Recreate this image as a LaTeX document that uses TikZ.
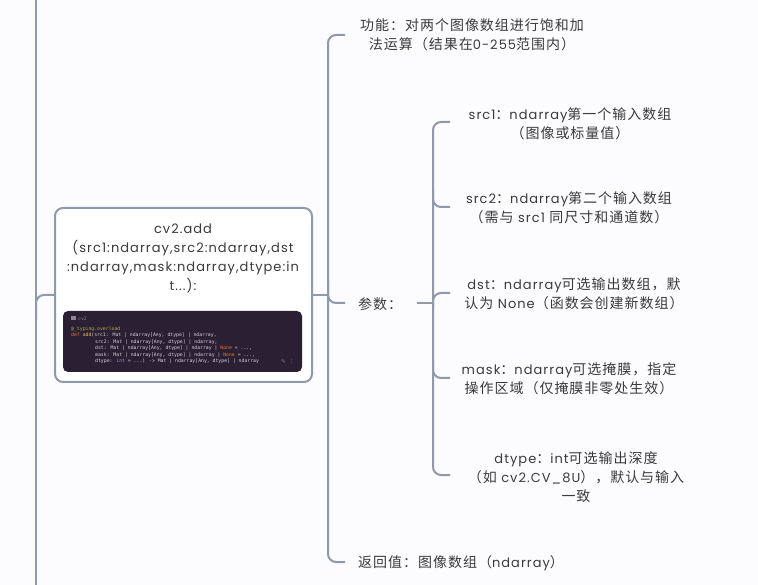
\documentclass[tikz,border=0pt]{standalone}
\usepackage{fontspec}
\setmainfont{Poppins}[LetterSpace=8]
\newfontfamily\zhfont{Noto Sans CJK SC}[LetterSpace=7]
\newfontfamily\codefont{DejaVu Sans Mono}
\newfontfamily\symfont{DejaVu Sans}
\newcommand\zh[1]{{\zhfont\fontsize{14}{19}\selectfont #1}}
\definecolor{linec}{HTML}{8F99AC}
\definecolor{txt}{HTML}{3A3A3A}
\definecolor{codebg}{HTML}{2A1F33}
\definecolor{cplain}{HTML}{D6D3DC}
\definecolor{cdeco}{HTML}{B3B23E}
\definecolor{ckey}{HTML}{E07A3A}
\definecolor{cfun}{HTML}{E8C24A}
\definecolor{cint}{HTML}{8A8FE6}
\definecolor{cdim}{HTML}{8A8494}
\tikzset{
  conn/.style={draw=linec, line width=2pt, rounded corners=8pt},
  lbl/.style={text=txt, font=\fontsize{13}{19}\selectfont, inner sep=0pt, align=center},
  lblw/.style={lbl, anchor=west},
  fnbox/.style={draw=linec, line width=2pt, rounded corners=8pt, fill=white},
  codeln/.style={anchor=west, inner sep=0pt, font=\codefont\fontsize{4.8}{6}\selectfont, text=cplain},
}
\begin{document}
\begin{tikzpicture}[x=1pt, y=-1pt]
\fill[white!99!blue] (0,0) rectangle (758,585);
\useasboundingbox (0,0) rectangle (758,585);

% main vertical trunk
\coordinate (trunkT) at (36,0);
\coordinate (trunkB) at (36,585);
\draw[conn] (trunkT) -- (trunkB);

% function box
\node[fnbox, minimum width=257pt, minimum height=174pt] (fn) at (183.5,295) {};
\node[lbl] (fntxt) at (183,258) {cv2.add\\(src1:ndarray,src2:ndarray,dst\\:ndarray,mask:ndarray,dtype:in\\t...):};
\draw[conn] (36,320) |- (fn.west);

% code snippet
\node[fill=codebg, rounded corners=5pt, minimum width=239pt, minimum height=61pt, inner sep=0pt] (code) at (182.5,341.5) {};
\fill[cdim] (71,316.5) rectangle (76,320.5);
\node[codeln, text=cdim] (c0) at (78,318.5) {cv2};
\node[codeln, text=cdeco] (c1) at (71,329) {@\_typing.overload};
\node[codeln] (c2) at (71,335.5) {\textcolor{ckey}{def} \textcolor{cfun}{add}(src1: Mat | ndarray[Any, dtype] | ndarray,};
\node[codeln] (c3) at (95,342) {src2: Mat | ndarray[Any, dtype] | ndarray,};
\node[codeln] (c4) at (95,348.5) {dst: Mat | ndarray[Any, dtype] | ndarray | \textcolor{ckey}{None} = ...,};
\node[codeln] (c5) at (95,355) {mask: Mat | ndarray[Any, dtype] | ndarray | \textcolor{ckey}{None} = ...,};
\node[codeln] (c6) at (95,361.5) {dtype: \textcolor{cint}{int} = ...) -> Mat | ndarray[Any, dtype] | ndarray};
\node[anchor=west, inner sep=0pt, text=cdim, font=\symfont\fontsize{5.5}{6}\selectfont] (ic) at (281,362) {✎\hspace{3pt}⋮};

% first-level bracket
\coordinate (jA) at (328,295);
\coordinate (bTop) at (345,35);
\coordinate (bBot) at (345,562);
\coordinate (bPar) at (345,303);
\draw[conn] (fn.east) -- (jA);
\draw[conn] (bTop) -- (328,35) -- (328,562) -- (bBot);
\draw[conn] (328,280) |- (bPar);

\node[lbl] (func) at (472,35) {\zh{功能：对两个图像数组进行饱和加}\\\zh{法运算（结果在}0-255\zh{范围内）}};
\node[lblw] (params) at (358,304) {\zh{参数：}};
\node[lblw] (ret) at (358,563) {\zh{返回值：图像数组（}ndarray\zh{）}};

% second-level bracket
\coordinate (jB) at (417,303);
\coordinate (jB2) at (433,303);
\coordinate (s1) at (450,122);
\coordinate (s2) at (450,207);
\coordinate (s3) at (450,293);
\coordinate (s4) at (450,378);
\coordinate (s5) at (450,475);
\draw[conn] (jB) -- (jB2);
\draw[conn] (s1) -- (433,122) -- (433,475) -- (s5);
\draw[conn] (433,190) |- (s2);
\draw[conn] (433,310) |- (s3);
\draw[conn] (433,360) |- (s4);

\node[lbl] (src1) at (570,123.5) {src1\zh{：}ndarray\zh{第一个输入数组}\\\zh{（图像或标量值）}};
\node[lbl] (src2) at (569,208) {src2\zh{：}ndarray\zh{第二个输入数组}\\\zh{（需与} src1 \zh{同尺寸和通道数）}};
\node[lbl] (dst) at (574,294) {dst\zh{：}ndarray\zh{可选输出数组，默}\\\zh{认为} None\zh{（函数会创建新数组）}};
\node[lbl] (mask) at (569,379) {mask\zh{：}ndarray\zh{可选掩膜，指定}\\\zh{操作区域（仅掩膜非零处生效）}};
\node[lbl] (dtype) at (576,477) {dtype\zh{：}int\zh{可选输出深度}\\\zh{（如} cv2.CV\_8U\zh{），默认与输入}\\\zh{一致}};
\end{tikzpicture}
\end{document}
